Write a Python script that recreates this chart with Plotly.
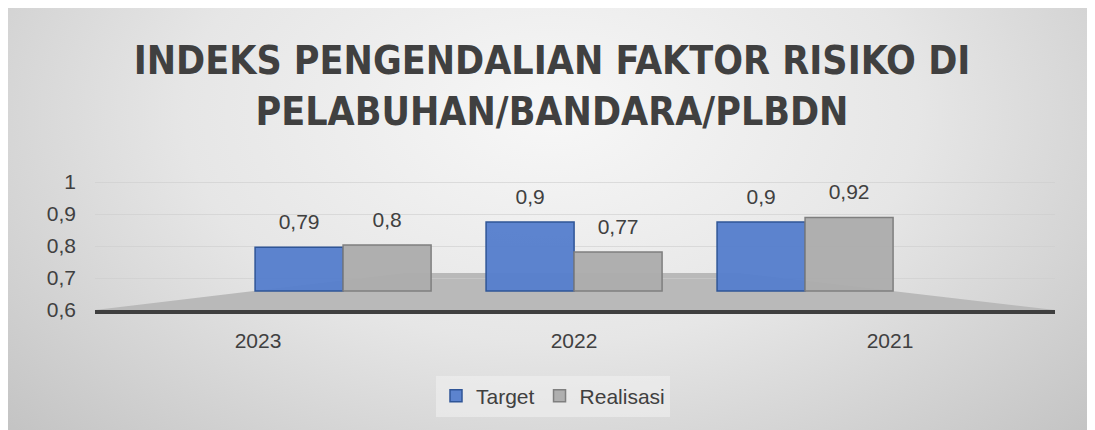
import base64
import plotly.graph_objects as go

# ---- data ----
years = ["2023", "2022", "2021"]
target = [0.79, 0.9, 0.9]
realisasi = [0.8, 0.77, 0.92]
series_names = ["Target", "Realisasi"]
y_tickvals = [0.6, 0.7, 0.8, 0.9, 1.0]
y_ticktext = ["0,6", "0,7", "0,8", "0,9", "1"]
title_lines = ["INDEKS PENGENDALIAN FAKTOR RISIKO DI", "PELABUHAN/BANDARA/PLBDN"]


def fmt(v):
    return ("%g" % v).replace(".", ",")


OFF = 8                      # page offset of the figure (body margin)
W, H = 1095 - OFF, 430 - OFF
L, R, T, B = 87, 40, 162, 120

TXT = "#404040"
FONT = "Liberation Sans, Arial, sans-serif"

fig = go.Figure()

# main bars (front faces)
fig.add_trace(go.Bar(
    x=years, y=[v - 0.6 for v in target], base=0.6, name=series_names[0],
    marker=dict(color="rgba(84,125,204,0.95)", line=dict(color="#2f5597", width=1.5)),
    hoverinfo="skip",
))
fig.add_trace(go.Bar(
    x=years, y=[v - 0.6 for v in realisasi], base=0.6, name=series_names[1],
    marker=dict(color="rgba(172,172,172,0.95)", line=dict(color="#7f7f7f", width=1.5)),
    hoverinfo="skip",
))

# data labels (transparent twin bars on a slightly shifted axis)
for vals in (target, realisasi):
    fig.add_trace(go.Bar(
        x=years, y=[v - 0.6 for v in vals], base=0.6, yaxis="y3",
        marker=dict(color="rgba(0,0,0,0)", line=dict(width=0)),
        text=[fmt(v) for v in vals], textposition="outside", cliponaxis=False,
        textfont=dict(family=FONT, size=21, color=TXT),
        showlegend=False, hoverinfo="skip",
    ))

# category label axis helper
fig.add_trace(go.Scatter(x=years, y=[None] * len(years), xaxis="x2", yaxis="y2",
                         mode="markers", showlegend=False, hoverinfo="skip"))

pw, ph = W - L - R, H - T - B
def px(x):   # page pixel -> paper
    return (x - OFF - L) / pw
def py(y):
    return (H - B - (y - OFF)) / ph

# background gradient (covers whole figure)
svg = """<svg xmlns='http://www.w3.org/2000/svg' width='1087' height='422' viewBox='0 0 1087 422' preserveAspectRatio='none'>
<defs><radialGradient id='g' cx='0.5' cy='0.25' r='0.75' gradientTransform='translate(0.5,0.25) scale(1,1.6) translate(-0.5,-0.25)'>
<stop offset='0' stop-color='#f7f7f7'/><stop offset='0.45' stop-color='#e6e6e6'/><stop offset='1' stop-color='#bdbdbd'/></radialGradient></defs>
<rect width='1087' height='422' fill='url(#g)'/></svg>"""
src = "data:image/svg+xml;base64," + base64.b64encode(svg.encode()).decode()

fig.add_layout_image(dict(source=src, xref="paper", yref="paper",
                          x=px(OFF), y=py(OFF), sizex=px(1095) - px(OFF), sizey=py(OFF) - py(430),
                          xanchor="left", yanchor="top", sizing="stretch", layer="below"))

# floor
floor = "M {} {} L {} {} L {} {} L {} {} Z".format(px(95), py(310), px(406), py(273),
                                                  px(738), py(273), px(1055), py(310))
fig.add_shape(type="path", path=floor, xref="paper", yref="paper",
              fillcolor="#b9b9b9", line=dict(width=0), layer="below")

fig.update_layout(
    width=W, height=H,
    margin=dict(l=L, r=R, t=T, b=B, autoexpand=False),
    paper_bgcolor="#e0e0e0", plot_bgcolor="rgba(0,0,0,0)",
    barmode="group", bargap=0.238, bargroupgap=0,
    font=dict(family=FONT, color=TXT),
    title=dict(text="<br>".join(title_lines), x=(552 - OFF) / W, xanchor="center",
               y=1 - 66 / H, yanchor="top", yref="container",
               font=dict(family="DejaVu Sans Condensed, sans-serif",
                         size=39, color="#404040", weight="bold")),
    xaxis=dict(type="category", categoryorder="array", categoryarray=years,
               range=[-1.074, 3.082], visible=False, fixedrange=True),
    yaxis=dict(range=[0.6 - 19 / 230, 0.6 + 121 / 230], visible=False, fixedrange=True),
    yaxis3=dict(range=[0.6 - 30 / 230, 0.6 + 110 / 230], overlaying="y", visible=False),
    xaxis2=dict(type="category", categoryorder="array", categoryarray=years,
                overlaying="x", side="bottom", range=[-0.516, 2.522], automargin=False,
                showline=True, linecolor="#3f3f3f", linewidth=4, showgrid=False,
                ticks="", ticklabelstandoff=9,
                tickfont=dict(family=FONT, size=21, color=TXT)),
    yaxis2=dict(overlaying="y", side="left", anchor="x2", range=[0.6, 0.6 + 140 / 320],
                automargin=False,
                tickvals=y_tickvals, ticktext=y_ticktext, showgrid=True,
                gridcolor="rgba(205,205,205,0.6)", gridwidth=1, zeroline=False,
                ticks="", ticklabelstandoff=18,
                tickfont=dict(family=FONT, size=21, color=TXT)),
    legend=dict(orientation="h", x=px(553), xanchor="center", y=py(396), yanchor="middle",
                bgcolor="rgba(240,240,240,0.6)", font=dict(family=FONT, size=21, color=TXT),
                itemwidth=30, traceorder="normal"),
    showlegend=True,
)

fig.write_html("out.html")
